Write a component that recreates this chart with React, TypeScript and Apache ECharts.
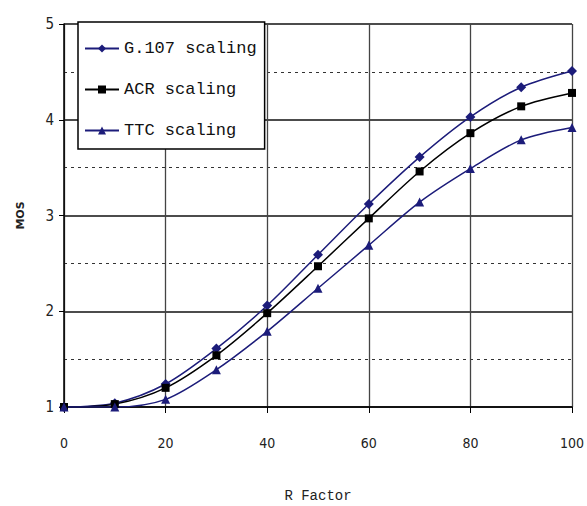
import React, { useEffect, useRef } from "react";
import * as echarts from "echarts";

const rFactor = [0, 10, 20, 30, 40, 50, 60, 70, 80, 90, 100];
const g107 = [1.0, 1.04, 1.24, 1.61, 2.06, 2.59, 3.12, 3.61, 4.03, 4.34, 4.51];
const acr = [1.0, 1.03, 1.2, 1.54, 1.98, 2.47, 2.97, 3.46, 3.86, 4.14, 4.28];
const ttc = [1.0, 1.0, 1.08, 1.39, 1.79, 2.24, 2.69, 3.14, 3.49, 3.79, 3.92];
const seriesNames = ["G.107 scaling", "ACR scaling", "TTC scaling"];

const navy = "#1c1c7a";

export default function App() {
  const ref = useRef<HTMLDivElement>(null);
  useEffect(() => {
    if (!ref.current) return;
    const chart = echarts.init(ref.current, undefined, { renderer: "svg" });
    const mk = (arr: number[]) => rFactor.map((x, i) => [x, arr[i]]);
    const specs = [
      { name: seriesNames[0], data: g107, color: navy, symbol: "diamond", size: 10 },
      { name: seriesNames[1], data: acr, color: "#000000", symbol: "rect", size: 8 },
      { name: seriesNames[2], data: ttc, color: navy, symbol: "triangle", size: 9 },
    ];
    chart.setOption({
      animation: false,
      backgroundColor: "#ffffff",
      grid: { left: 64, top: 24, right: 15, bottom: 99, containLabel: false, outerBoundsMode: "none" },
      legend: {
        left: 78,
        top: 22,
        orient: "vertical",
        data: seriesNames,
        backgroundColor: "#ffffff",
        borderColor: "#000000",
        borderWidth: 1.5,
        borderRadius: 0,
        padding: [18, 8, 10, 6],
        itemWidth: 34,
        itemHeight: 10,
        itemGap: 24,
        textStyle: { fontFamily: "Liberation Mono", fontSize: 17, color: "#111" },
      },
      xAxis: {
        type: "value",
        min: 0,
        max: 100,
        interval: 20,
        name: "R Factor",
        nameLocation: "middle",
        nameGap: 82,
        nameTextStyle: { fontFamily: "Liberation Mono", fontSize: 14, color: "#222", lineHeight: 14 },
        axisLine: { show: true, lineStyle: { color: "#000", width: 1.5 } },
        axisTick: { show: true, length: 6, lineStyle: { color: "#000" } },
        axisLabel: { margin: 29, fontFamily: "DejaVu Sans Condensed", fontSize: 14, color: "#222" },
        splitLine: { show: true, lineStyle: { color: "#444", width: 1.3 } },
      },
      yAxis: {
        type: "value",
        min: 1,
        max: 5,
        interval: 1,
        name: "MOS",
        nameLocation: "middle",
        nameRotate: 90,
        nameGap: 38,
        nameTextStyle: { fontFamily: "DejaVu Sans", fontSize: 11, fontWeight: "bold", color: "#222" },
        axisLine: { show: true, lineStyle: { color: "#000", width: 1.5 } },
        axisTick: { show: true, length: 5, lineStyle: { color: "#000" } },
        axisLabel: { margin: 10, fontFamily: "DejaVu Sans Condensed", fontSize: 15, color: "#222" },
        splitLine: { show: true, lineStyle: { color: "#111", width: 1.5 } },
        minorTick: { show: false, splitNumber: 2 },
        minorSplitLine: { show: true, lineStyle: { color: "#333", type: [3, 4], width: 1.2 } },
      },
      series: specs.map((s) => ({
        name: s.name,
        type: "line",
        data: mk(s.data),
        smooth: 0.3,
        symbol: s.symbol,
        symbolSize: s.size,
        itemStyle: { color: s.color },
        lineStyle: { color: s.color, width: 1.5 },
      })),
    });
    return () => chart.dispose();
  }, []);
  return <div ref={ref} style={{ width: 587, height: 506, position: "absolute", left: 0, top: 0 }} />;
}
